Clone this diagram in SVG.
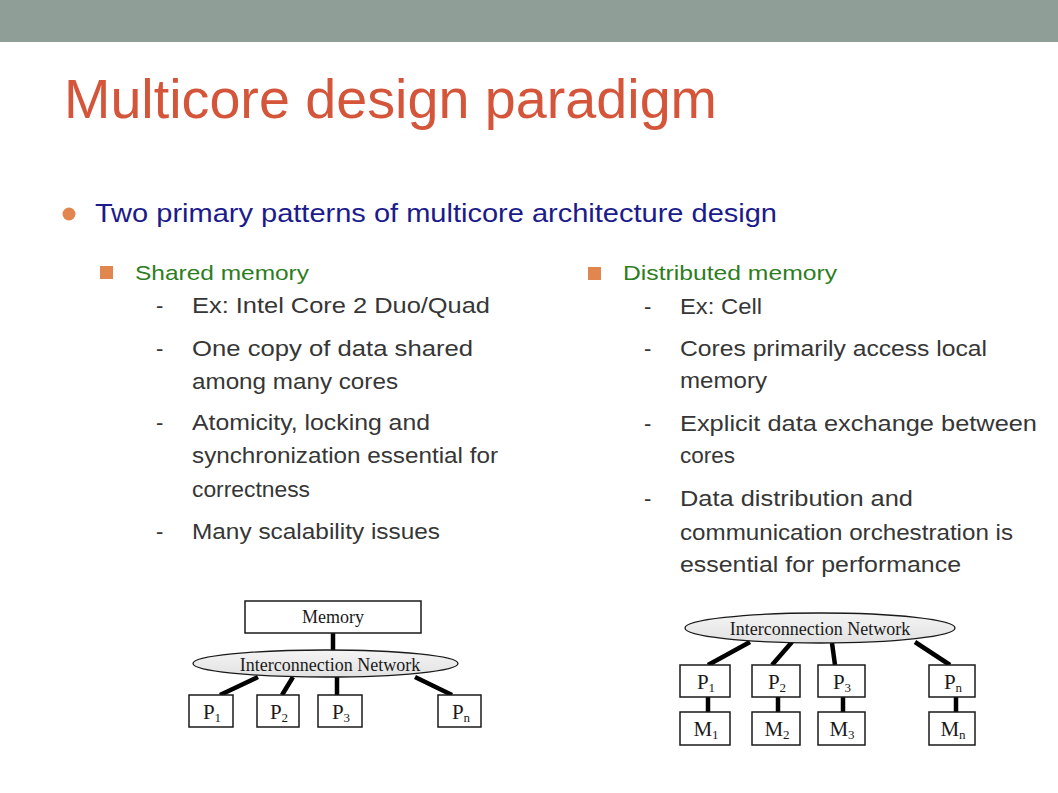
<svg xmlns="http://www.w3.org/2000/svg" width="1058" height="793" viewBox="0 0 1058 793">
<defs>
<linearGradient id="ell" x1="0" y1="0" x2="0" y2="1">
<stop offset="0" stop-color="#f4f4f4"/>
<stop offset="1" stop-color="#e2e2e2"/>
</linearGradient>
</defs>
<style>
.title{font-family:"Liberation Sans",Arial,sans-serif;font-size:56px;fill:#d4553a}
.l1{font-family:"Liberation Sans",Arial,sans-serif;font-size:25px;fill:#1b1b8c}
.l2{font-family:"Liberation Sans",Arial,sans-serif;font-size:21px;fill:#2d7d1e}
.body{font-family:"Liberation Sans",Arial,sans-serif;font-size:22px;fill:#363636}
.dash{font-family:"Liberation Sans",Arial,sans-serif;font-size:22px;fill:#363636}
.box{fill:#ffffff;stroke:#1a1a1a;stroke-width:1.5}
.net{fill:url(#ell);stroke:#1a1a1a;stroke-width:1.3}
.lbl{font-family:"Liberation Serif","Times New Roman",serif;font-size:18px;fill:#1a1a1a;text-anchor:middle}
.pl{font-family:"Liberation Serif","Times New Roman",serif;font-size:21px;fill:#1a1a1a;text-anchor:middle}
.sub{font-size:13px}
.conn line{stroke:#000000;stroke-width:4.5;stroke-linecap:butt}
.sq{fill:#e0864e}
</style>
<rect x="0" y="0" width="1058" height="793" fill="#ffffff"/>
<rect x="0" y="0" width="1058" height="42" fill="#8f9e96"/>
<text class="title" x="64" y="118" textLength="653" lengthAdjust="spacingAndGlyphs">Multicore design paradigm</text>
<circle cx="69" cy="214" r="6.5" fill="#e0864e"/>
<text class="l1" x="95" y="222" textLength="682" lengthAdjust="spacingAndGlyphs">Two primary patterns of multicore architecture design</text>
<rect class="sq" x="100" y="266" width="13" height="13"/>
<text class="l2" x="135" y="280" textLength="174" lengthAdjust="spacingAndGlyphs">Shared memory</text>
<rect class="sq" x="588" y="267" width="13" height="13"/>
<text class="l2" x="623" y="280" textLength="214" lengthAdjust="spacingAndGlyphs">Distributed memory</text>
<g id="left-text">
<text class="dash" x="156" y="313">-</text>
<text class="body" x="192" y="313" textLength="298" lengthAdjust="spacingAndGlyphs">Ex: Intel Core 2 Duo/Quad</text>
<text class="dash" x="156" y="356">-</text>
<text class="body" x="192" y="356" textLength="281" lengthAdjust="spacingAndGlyphs">One copy of data shared</text>
<text class="body" x="192" y="389" textLength="206" lengthAdjust="spacingAndGlyphs">among many cores</text>
<text class="dash" x="156" y="430">-</text>
<text class="body" x="192" y="430" textLength="238" lengthAdjust="spacingAndGlyphs">Atomicity, locking and</text>
<text class="body" x="192" y="463" textLength="306" lengthAdjust="spacingAndGlyphs">synchronization essential for</text>
<text class="body" x="192" y="497" textLength="118" lengthAdjust="spacingAndGlyphs">correctness</text>
<text class="dash" x="156" y="539">-</text>
<text class="body" x="192" y="539" textLength="248" lengthAdjust="spacingAndGlyphs">Many scalability issues</text>
</g>
<g id="right-text">
<text class="dash" x="644" y="314">-</text>
<text class="body" x="680" y="314" textLength="82" lengthAdjust="spacingAndGlyphs">Ex: Cell</text>
<text class="dash" x="644" y="356">-</text>
<text class="body" x="680" y="356" textLength="307" lengthAdjust="spacingAndGlyphs">Cores primarily access local</text>
<text class="body" x="680" y="388" textLength="87" lengthAdjust="spacingAndGlyphs">memory</text>
<text class="dash" x="644" y="431">-</text>
<text class="body" x="680" y="431" textLength="357" lengthAdjust="spacingAndGlyphs">Explicit data exchange between</text>
<text class="body" x="680" y="463" textLength="55" lengthAdjust="spacingAndGlyphs">cores</text>
<text class="dash" x="644" y="506">-</text>
<text class="body" x="680" y="506" textLength="233" lengthAdjust="spacingAndGlyphs">Data distribution and</text>
<text class="body" x="680" y="540" textLength="333" lengthAdjust="spacingAndGlyphs">communication orchestration is</text>
<text class="body" x="680" y="572" textLength="281" lengthAdjust="spacingAndGlyphs">essential for performance</text>
</g>
<g id="connectors" class="conn">
<line x1="333" y1="633" x2="333" y2="651"/>
<line x1="220" y1="695" x2="258" y2="677"/>
<line x1="282" y1="695" x2="293" y2="677"/>
<line x1="337" y1="695" x2="337" y2="677"/>
<line x1="452" y1="695" x2="415" y2="677"/>
<line x1="708" y1="665" x2="750" y2="642"/>
<line x1="772" y1="665" x2="792" y2="642"/>
<line x1="835" y1="665" x2="832" y2="643"/>
<line x1="950" y1="665" x2="915" y2="642"/>
<line x1="708" y1="697" x2="708" y2="712"/>
<line x1="778" y1="697" x2="778" y2="712"/>
<line x1="843" y1="697" x2="843" y2="712"/>
<line x1="956" y1="697" x2="956" y2="712"/>
</g>
<g id="memory">
<rect class="box" x="245" y="601" width="176" height="32"/>
<text class="lbl" x="333" y="623">Memory</text>
</g>
<g id="net-shared">
<ellipse class="net" cx="325.5" cy="663.5" rx="132.5" ry="13.5"/>
<text class="lbl" x="330" y="671">Interconnection Network</text>
</g>
<g id="sp1"><rect class="box" x="189" y="695" width="44" height="32"/><text class="pl" x="212" y="719">P<tspan class="sub" dy="3">1</tspan></text></g>
<g id="sp2"><rect class="box" x="257" y="695" width="42" height="32"/><text class="pl" x="279" y="719">P<tspan class="sub" dy="3">2</tspan></text></g>
<g id="sp3"><rect class="box" x="318" y="695" width="44" height="32"/><text class="pl" x="341" y="719">P<tspan class="sub" dy="3">3</tspan></text></g>
<g id="spn"><rect class="box" x="438" y="695" width="43" height="32"/><text class="pl" x="461" y="719">P<tspan class="sub" dy="3">n</tspan></text></g>
<g id="net-dist">
<ellipse class="net" cx="820" cy="628" rx="135" ry="15"/>
<text class="lbl" x="820" y="635">Interconnection Network</text>
</g>
<g id="dp1"><rect class="box" x="680" y="665" width="50" height="32"/><text class="pl" x="706" y="689">P<tspan class="sub" dy="3">1</tspan></text></g>
<g id="dp2"><rect class="box" x="752" y="665" width="48" height="32"/><text class="pl" x="777" y="689">P<tspan class="sub" dy="3">2</tspan></text></g>
<g id="dp3"><rect class="box" x="818" y="665" width="47" height="32"/><text class="pl" x="842" y="689">P<tspan class="sub" dy="3">3</tspan></text></g>
<g id="dpn"><rect class="box" x="929" y="665" width="46" height="32"/><text class="pl" x="953" y="689">P<tspan class="sub" dy="3">n</tspan></text></g>
<g id="dm1"><rect class="box" x="680" y="712" width="50" height="33"/><text class="pl" x="706" y="736">M<tspan class="sub" dy="3">1</tspan></text></g>
<g id="dm2"><rect class="box" x="752" y="712" width="48" height="33"/><text class="pl" x="777" y="736">M<tspan class="sub" dy="3">2</tspan></text></g>
<g id="dm3"><rect class="box" x="818" y="712" width="47" height="33"/><text class="pl" x="842" y="736">M<tspan class="sub" dy="3">3</tspan></text></g>
<g id="dmn"><rect class="box" x="929" y="712" width="46" height="33"/><text class="pl" x="953" y="736">M<tspan class="sub" dy="3">n</tspan></text></g>
</svg>
